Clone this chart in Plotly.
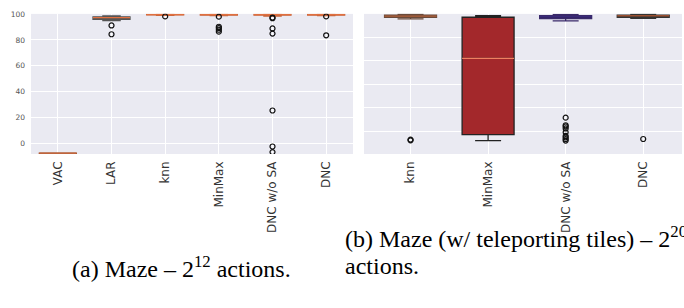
import plotly.graph_objects as go

# ---------------- data ----------------
left_cats = ["VAC", "LAR", "knn", "MinMax", "DNC w/o SA", "DNC"]
left_lower = [-7.6, 95.0, 99.0, 98.8, 98.5, 98.8]
left_q1 = [-7.6, 96.0, 99.3, 99.2, 99.2, 99.2]
left_median = [-7.5, 97.3, 99.6, 99.6, 99.6, 99.6]
left_q3 = [-7.4, 97.9, 99.8, 99.8, 99.8, 99.8]
left_upper = [-7.4, 98.6, 100.0, 100.0, 100.0, 100.0]
left_outliers = {
    "VAC": [],
    "LAR": [91.2, 84.4],
    "knn": [98.2],
    "MinMax": [98.0, 90.2, 89.2, 87.9, 86.4],
    "DNC w/o SA": [97.3, 96.8, 88.9, 84.9, 25.5, -2.3, -6.6],
    "DNC": [98.2, 83.6],
}

right_cats = ["knn", "MinMax", "DNC w/o SA", "DNC"]
right_lower = [95.6, -8.0, 94.0, 96.0]
right_q1 = [97.0, -3.0, 95.8, 97.0]
right_median = [98.0, 62.0, 97.5, 98.3]
right_q3 = [98.9, 97.0, 98.3, 98.9]
right_upper = [99.7, 98.3, 99.5, 99.7]
right_outliers = {
    "knn": [-7.2, -7.8],
    "MinMax": [],
    "DNC w/o SA": [11.5, 5.0, 4.0, 2.3, -1.0, -4.0, -5.3, -6.7, -8.0],
    "DNC": [-6.7],
}

left_ticks = [0, 20, 40, 60, 80, 100]

# ---------------- styles ----------------
left_fill = ["#b8613a", "#8c8c8c", "#d9744a", "#d9744a", "#d9744a", "#d9744a"]
left_line = ["#a0522d", "#555555", "#c8643a", "#c8643a", "#c8643a", "#c8643a"]
left_med = ["#c0643c", "#e07040", "#e07040", "#e07040", "#e07040", "#e07040"]
right_fill = ["#7a3b1e", "#a3282b", "#2c1f5e", "#2a1a10"]
right_line = ["#6a4a3a", "#222222", "#3a2a6a", "#333333"]
right_med = ["#b0603a", "#f08060", "#3a2a7a", "#9a5030"]

W, H = 684, 308
ytop, ybot = 10, 152
ydom = [1 - ybot / H, 1 - ytop / H]

fig = go.Figure()


def add_boxes(cats, lo, q1, med, q3, up, outl, fills, lines, meds, xa, ya, bw):
    for i, c in enumerate(cats):
        fig.add_trace(go.Box(
            x=[c], q1=[q1[i]], median=[med[i]], q3=[q3[i]],
            lowerfence=[lo[i]], upperfence=[up[i]],
            boxpoints=False, width=bw, whiskerwidth=0.5,
            fillcolor=fills[i], line=dict(color=lines[i], width=1.3),
            xaxis=xa, yaxis=ya, showlegend=False, hoverinfo="skip"))
        # median line
        fig.add_trace(go.Box(
            x=[c], q1=[med[i]], median=[med[i]], q3=[med[i]],
            lowerfence=[med[i]], upperfence=[med[i]],
            boxpoints=False, width=bw, whiskerwidth=0,
            fillcolor="rgba(0,0,0,0)", line=dict(color=meds[i], width=1.3),
            xaxis=xa, yaxis=ya, showlegend=False, hoverinfo="skip"))
        vals = outl[c]
        if vals:
            fig.add_trace(go.Scatter(
                x=[c] * len(vals), y=vals, mode="markers",
                marker=dict(symbol="circle-open", size=5, color="#111111",
                            line=dict(width=1.2, color="#111111")),
                xaxis=xa, yaxis=ya, showlegend=False, hoverinfo="skip"))


add_boxes(left_cats, left_lower, left_q1, left_median, left_q3, left_upper,
          left_outliers, left_fill, left_line, left_med, "x", "y", 0.69)
add_boxes(right_cats, right_lower, right_q1, right_median, right_q3, right_upper,
          right_outliers, right_fill, right_line, right_med, "x2", "y2", 0.67)

tickfont = dict(family="DejaVu Sans", size=12, color="#333333")
bg = "#eaeaf2"
grid = dict(showgrid=True, gridcolor="white", gridwidth=1.4, zeroline=False,
            showline=False, ticks="")

fig.update_layout(
    width=W, height=H, margin=dict(l=0, r=0, t=0, b=0),
    paper_bgcolor="white", plot_bgcolor=bg, boxmode="overlay",
    xaxis=dict(domain=[31 / W, 353 / W], anchor="y", type="category",
               categoryorder="array", categoryarray=left_cats,
               range=[-0.5, 5.5], tickangle=-90, tickfont=tickfont,
               ticklabelstandoff=4, **grid),
    yaxis=dict(domain=ydom, anchor="x", range=[-8.1, 100.15],
               tickvals=left_ticks, ticktext=[str(t) for t in left_ticks],
               tickfont=dict(family="DejaVu Sans", size=7.5, color="#555555"),
               ticklabelstandoff=5, **grid),
    xaxis2=dict(domain=[364 / W, 682 / W], anchor="y2", type="category",
                categoryorder="array", categoryarray=right_cats,
                range=[-0.6, 3.5], tickangle=-90, tickfont=tickfont,
                ticklabelstandoff=4, **grid),
    yaxis2=dict(domain=ydom, anchor="x2", range=[-19.5, 99.9],
                tickvals=left_ticks, showticklabels=False, **grid),
)

capfont = dict(family="Liberation Serif", size=24, color="black")
fig.add_annotation(
    xref="paper", yref="paper", x=181 / W, y=1 - 266 / H,
    xanchor="center", yanchor="middle", showarrow=False,
    text="(a) Maze – 2<sup>12</sup> actions.", font=capfont)
fig.add_annotation(
    xref="paper", yref="paper", x=343 / W, y=1 - 236 / H,
    xanchor="left", yanchor="middle", align="left", showarrow=False,
    text="(b) Maze (w/ teleporting tiles) – 2<sup>20</sup>", font=capfont)
fig.add_annotation(
    xref="paper", yref="paper", x=343 / W, y=1 - 265 / H,
    xanchor="left", yanchor="middle", align="left", showarrow=False,
    text="actions.", font=capfont)

fig.write_html("out.html", config={"displayModeBar": False},
               post_script="document.body.style.margin='0';document.body.style.overflow='hidden';")
